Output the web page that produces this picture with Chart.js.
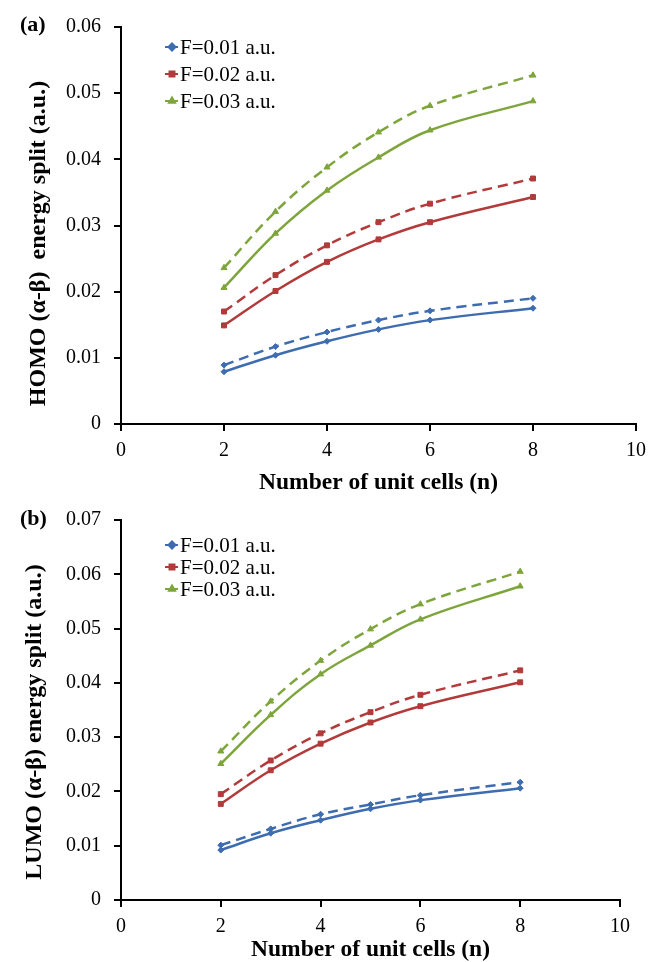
<!DOCTYPE html>
<html>
<head>
<meta charset="utf-8">
<script src="https://cdn.jsdelivr.net/npm/chart.js@4.4.1/dist/chart.umd.min.js"></script>
<style>
html, body { margin: 0; padding: 0; background: #fff; }
#wrap { position: relative; width: 649px; height: 962px; }
.box { position: absolute; left: 0; width: 649px; }
</style>
</head>
<body>
<div id="wrap">
  <div class="box" style="top:0;height:495px"><canvas id="chart_homo"></canvas></div>
  <div class="box" style="top:495px;height:467px"><canvas id="chart_lumo"></canvas></div>
</div>
<script>
// number of unit cells (x values)
var nCells = [2, 3, 4, 5, 6, 8];
var fieldLabels = ['F=0.01 a.u.', 'F=0.02 a.u.', 'F=0.03 a.u.'];

// (a) HOMO alpha-beta split, solid and dashed curves
var homoF1 = [0.0079, 0.0104, 0.0125, 0.0143, 0.0157, 0.0175];
var homoF1Dash = [0.0089, 0.0117, 0.0139, 0.0157, 0.0171, 0.0190];
var homoF2 = [0.0149, 0.0201, 0.0245, 0.0279, 0.0305, 0.0343];
var homoF2Dash = [0.0170, 0.0225, 0.0270, 0.0305, 0.0333, 0.0371];
var homoF3 = [0.0206, 0.0288, 0.0353, 0.0403, 0.0444, 0.0488];
var homoF3Dash = [0.0236, 0.0321, 0.0388, 0.0441, 0.0481, 0.0527];

// (b) LUMO alpha-beta split
var lumoF1 = [0.0092, 0.0123, 0.0147, 0.0168, 0.0184, 0.0206];
var lumoF1Dash = [0.0101, 0.0131, 0.0158, 0.0176, 0.0193, 0.0217];
var lumoF2 = [0.0177, 0.0239, 0.0288, 0.0327, 0.0357, 0.0401];
var lumoF2Dash = [0.0195, 0.0257, 0.0307, 0.0346, 0.0378, 0.0423];
var lumoF3 = [0.0251, 0.0341, 0.0416, 0.0469, 0.0517, 0.0578];
var lumoF3Dash = [0.0274, 0.0366, 0.0441, 0.0499, 0.0545, 0.0605];

var colors = ['#3d6cb0', '#b23a3a', '#7ea53c'];
var markers = ['rectRot', 'rect', 'triangle'];

Chart.defaults.font.family = "'Liberation Serif', 'Times New Roman', serif";
Chart.defaults.font.size = 20;
Chart.defaults.color = '#000';

function series(i, values, dashed) {
    return {
        label: fieldLabels[i] + (dashed ? ' (dashed)' : ''),
        showInLegend: !dashed,
        data: nCells.map(function (n, k) { return { x: n, y: values[k] }; }),
        borderColor: colors[i],
        backgroundColor: colors[i],
        borderWidth: 2.5,
        borderDash: dashed ? [10, 6] : [],
        pointStyle: markers[i],
        pointRadius: markers[i] === 'rectRot' ? 3 : 3.5,
        pointBorderWidth: 1,
        tension: 0.4
    };
}

// draws the small legend and the panel letter
var extrasPlugin = {
    id: 'extras',
    afterDraw: function (chart, args, opts) {
        var ctx = chart.ctx;
        ctx.save();
        ctx.fillStyle = '#000';
        ctx.font = "bold 22px 'Liberation Serif', serif";
        ctx.textBaseline = 'middle';
        ctx.fillText(opts.panel, opts.panelX, opts.panelY);
        ctx.font = "21px 'Liberation Serif', serif";
        var row = 0;
        chart.data.datasets.forEach(function (ds) {
            if (!ds.showInLegend) return;
            var y = opts.legendY + row * opts.legendStep;
            var x = opts.legendX;
            ctx.strokeStyle = ds.borderColor;
            ctx.lineWidth = 2;
            ctx.setLineDash([]);
            ctx.beginPath();
            ctx.moveTo(x - 7, y);
            ctx.lineTo(x + 6, y);
            ctx.stroke();
            Chart.helpers.drawPoint(ctx, { pointStyle: ds.pointStyle, radius: 3.5, borderWidth: 1, rotation: 0 }, x, y);
            ctx.fillStyle = ds.borderColor;
            ctx.fill();
            ctx.fillStyle = '#000';
            ctx.fillText(ds.label, x + 8, y + 1);
            row++;
        });
        ctx.restore();
    }
};

function makeChart(id, datasets, yMax, yTitle, pad, xHeight, xTitlePad, yTitlePad, extras) {
    return new Chart(document.getElementById(id), {
        type: 'line',
        data: { datasets: datasets },
        options: {
            animation: false,
            responsive: true,
            maintainAspectRatio: false,
            layout: { padding: pad, autoPadding: false },
            plugins: {
                legend: { display: false },
                tooltip: { enabled: false },
                extras: extras
            },
            scales: {
                x: {
                    type: 'linear',
                    min: 0,
                    max: 10,
                    ticks: { stepSize: 2, padding: 8, maxRotation: 0 },
                    grid: { drawOnChartArea: false, drawTicks: true, tickLength: 7, color: '#000', lineWidth: 2 },
                    border: { color: '#000', width: 2 },
                    title: {
                        display: true,
                        text: 'Number of unit cells (n)',
                        font: { size: 23.5, weight: 'bold', lineHeight: 1 },
                        padding: { top: xTitlePad, bottom: 0 }
                    },
                    afterFit: function (scale) {
                        scale.height = xHeight;
                        scale.paddingLeft = 0;
                        scale.paddingRight = 0;
                    }
                },
                y: {
                    min: 0,
                    max: yMax,
                    ticks: {
                        stepSize: 0.01,
                        padding: 13,
                        callback: function (v) { return v === 0 ? '0' : v.toFixed(2); }
                    },
                    grid: { drawOnChartArea: false, drawTicks: true, tickLength: 7, color: '#000', lineWidth: 2 },
                    border: { color: '#000', width: 2 },
                    title: {
                        display: true,
                        text: yTitle,
                        font: { size: 24, weight: 'bold', lineHeight: 1 },
                        padding: { top: yTitlePad, bottom: 0 }
                    },
                    afterFit: function (scale) { scale.width = 121; }
                }
            }
        },
        plugins: [extrasPlugin]
    });
}

var chart_homo = makeChart('chart_homo', [
    series(0, homoF1, false), series(1, homoF2, false), series(2, homoF3, false),
    series(0, homoF1Dash, true), series(1, homoF2Dash, true), series(2, homoF3Dash, true)
], 0.06, 'HOMO (\u03b1-\u03b2)  energy split (a.u.)      ', { top: 27, right: 13, left: 0, bottom: 0 }, 71, 6, 27,
    { panel: '(a)', panelX: 20, panelY: 25, legendX: 172, legendY: 47, legendStep: 27 });

var chart_lumo = makeChart('chart_lumo', [
    series(0, lumoF1, false), series(1, lumoF2, false), series(2, lumoF3, false),
    series(0, lumoF1Dash, true), series(1, lumoF2Dash, true), series(2, lumoF3Dash, true)
], 0.07, 'LUMO (\u03b1-\u03b2) energy split (a.u.)    ', { top: 24, right: 29, left: 0, bottom: 0 }, 62, 0, 23,
    { panel: '(b)', panelX: 20, panelY: 24, legendX: 172, legendY: 50, legendStep: 22 });
</script>
</body>
</html>
